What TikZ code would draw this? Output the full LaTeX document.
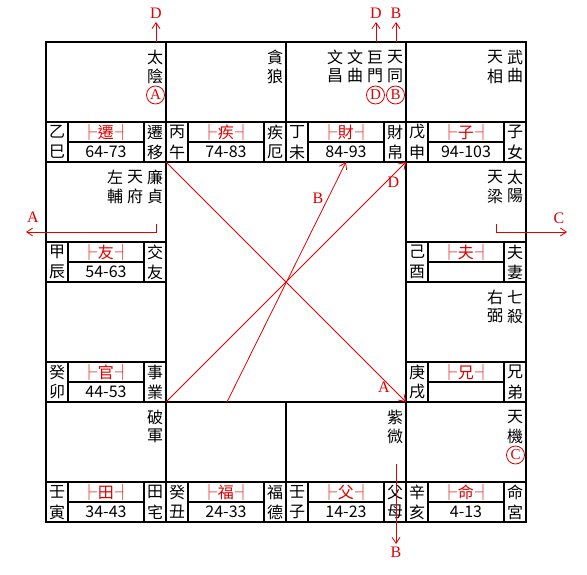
\documentclass[tikz,border=0pt]{standalone}
\usepackage{fontspec}
\setmainfont{Noto Sans CJK TC}
\newfontfamily\latinserif{Liberation Serif}
\usetikzlibrary{arrows.meta}
\definecolor{chartred}{RGB}{225,0,0}
\begin{document}
\begin{tikzpicture}[x=1pt,y=-1pt,
  grid/.style={line width=2pt, black},
  cj/.style={inner sep=0pt, font=\fontsize{16}{16}\selectfont},
  palacelabel/.style={inner sep=0pt, text=chartred, font=\fontsize{16}{16}\selectfont},
  flow/.style={draw=chartred, line width=0.8pt, -{Straight Barb[length=6pt,width=8pt]}},
  letter/.style={inner sep=0pt, text=chartred, font=\latinserif\fontsize{16}{16}\selectfont},
  ringed/.style={circle, draw=chartred, line width=0.8pt, inner sep=0pt, minimum size=18pt, text=chartred, font=\latinserif\fontsize{15}{15}\selectfont}
]
\useasboundingbox (0,0) rectangle (587,575);
\fill[white] (0,0) rectangle (587,575);

% grid
\draw[grid] (46,42) rectangle (526,522);
\draw[grid] (46,162) -- (526,162);
\draw[grid] (46,402) -- (526,402);
\draw[grid] (46,282) -- (166,282) (406,282) -- (526,282);
\draw[grid] (166,42) -- (166,522) (406,42) -- (406,522);
\draw[grid] (286,42) -- (286,162) (286,402) -- (286,522);

\foreach \c/\r in {0/0,1/0,2/0,3/0,0/1,3/1,0/2,3/2,0/3,1/3,2/3,3/3} {
  \draw[grid] (\c*120+46, \r*120+122) -- ++(120,0)
     (\c*120+68, \r*120+122) -- ++(0,40)
     (\c*120+144, \r*120+122) -- ++(0,40)
     (\c*120+68, \r*120+142) -- ++(76,0);
}

% palace strips
\foreach \c/\r/\s/\b/\p/\n/\qa/\qb in {
  0/0/乙/巳/遷/64-73/遷/移,
  1/0/丙/午/疾/74-83/疾/厄,
  2/0/丁/未/財/84-93/財/帛,
  3/0/戊/申/子/94-103/子/女,
  0/1/甲/辰/友/54-63/交/友,
  3/1/己/酉/夫/{}/夫/妻,
  0/2/癸/卯/官/44-53/事/業,
  3/2/庚/戌/兄/{}/兄/弟,
  0/3/壬/寅/田/34-43/田/宅,
  1/3/癸/丑/福/24-33/福/德,
  2/3/壬/子/父/14-23/父/母,
  3/3/辛/亥/命/4-13/命/宮} {
  \node[cj] (stem-\c-\r) at (\c*120+57, \r*120+132) {\s};
  \node[cj] (branch-\c-\r) at (\c*120+57, \r*120+152) {\b};
  \node[palacelabel] (tag-\c-\r) at (\c*120+106, \r*120+132) {├\kern1pt\p\kern1pt┤};
  \node[cj] (age-\c-\r) at (\c*120+106, \r*120+152) {\n};
  \node[cj] (name-\c-\r) at (\c*120+155, \r*120+132) {\qa};
  \node[cj] (nameb-\c-\r) at (\c*120+155, \r*120+152) {\qb};
}

% stars
\foreach \c/\r/\k/\a/\b in {0/0/0/太/陰, 1/0/0/貪/狼, 2/0/0/天/同, 2/0/1/巨/門,
  2/0/2/文/曲, 2/0/3/文/昌, 3/0/0/武/曲, 3/0/1/天/相, 0/1/0/廉/貞, 0/1/1/天/府,
  0/1/2/左/輔, 3/1/0/太/陽, 3/1/1/天/梁, 3/2/0/七/殺, 3/2/1/右/弼, 0/3/0/破/軍,
  2/3/0/紫/微, 3/3/0/天/機} {
  \node[cj] (star-\c-\r-\k-a) at (\c*120+155-20*\k, \r*120+57) {\a};
  \node[cj] (star-\c-\r-\k-b) at (\c*120+155-20*\k, \r*120+76) {\b};
}

% ringed markers
\node[ringed] (ringA) at (155.5,95) {A};
\node[ringed] (ringD) at (375.5,95) {D};
\node[ringed] (ringB) at (395.5,95) {B};
\node[ringed] (ringC) at (515.5,455) {C};

% outer arrows
\coordinate (tD1s) at (156,42); \coordinate (tD1e) at (156,22);
\draw[flow] (tD1s) -- (tD1e);
\node[letter] (lD1) at (156,13.5) {D};
\coordinate (tD2s) at (376,42); \coordinate (tD2e) at (376,22);
\draw[flow] (tD2s) -- (tD2e);
\node[letter] (lD2) at (376,13.5) {D};
\coordinate (tBs) at (396,42); \coordinate (tBe) at (396,22);
\draw[flow] (tBs) -- (tBe);
\node[letter] (lB1) at (396,13.5) {B};

\coordinate (aS) at (156,224); \coordinate (aM) at (156,232); \coordinate (aE) at (26,232);
\draw[flow] (aS) -- (aM) -- (aE);
\node[letter] (lA1) at (33,217.5) {A};

\coordinate (cS) at (496,224); \coordinate (cM) at (496,232); \coordinate (cE) at (567,232);
\draw[flow] (cS) -- (cM) -- (cE);
\node[letter] (lC1) at (559,218) {C};

\coordinate (bS) at (396,464); \coordinate (bE) at (396,544);
\draw[flow] (bS) -- (bE);
\node[letter] (lB2) at (396,552.5) {B};

% center arrows
\coordinate (ctl) at (166,162); \coordinate (cbr) at (406,402);
\coordinate (cbl) at (166,402); \coordinate (ctr) at (406,162);
\coordinate (cbm) at (227,402); \coordinate (ctm) at (346,162);
\draw[flow] (ctl) -- (cbr);
\draw[flow] (cbl) -- (ctr);
\draw[flow] (cbm) -- (ctm);
\node[letter] (lA2) at (384,387) {A};
\node[letter] (lD3) at (393.5,182) {D};
\node[letter] (lB3) at (318,198) {B};
\end{tikzpicture}
\end{document}
